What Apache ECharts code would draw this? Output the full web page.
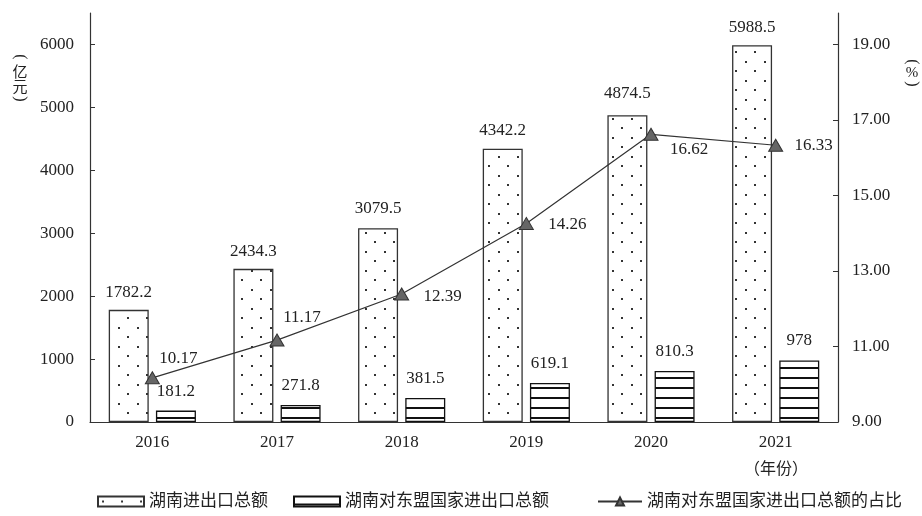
<!DOCTYPE html>
<html>
<head>
<meta charset="utf-8">
<script src="https://cdn.jsdelivr.net/npm/echarts@6/dist/echarts.min.js"></script>
<style>
html,body{margin:0;padding:0;background:#fff;}
#main{width:922px;height:516px;}
</style>
</head>
<body>
<div id="main"></div>
<script>
// ---- data ----
const years = ['2016', '2017', '2018', '2019', '2020', '2021'];
const totalTrade = [1782.2, 2434.3, 3079.5, 4342.2, 4874.5, 5988.5];
const aseanTrade = [181.2, 271.8, 381.5, 619.1, 810.3, 978];
const aseanShare = [10.17, 11.17, 12.39, 14.26, 16.62, 16.33];
const leftTicks = [0, 1000, 2000, 3000, 4000, 5000, 6000];
const rightTicks = [9, 11, 13, 15, 17, 19];
const seriesNames = ['湖南进出口总额', '湖南对东盟国家进出口总额', '湖南对东盟国家进出口总额的占比'];

// label placement tweaks (style only)
const shareLabelOffsets = [[26, -19], [25, -23], [41, 3], [41, 1], [38, 15], [38, 0]];
const totalLabelOffsets = [[0, 0], [0, 0], [0, -2], [0, -1], [0, -4], [0, 0]];

const FONT = '"Liberation Serif", "Times New Roman", "Noto Sans CJK SC", serif';
const TXT = '#222';

function dotPattern() {
  const c = document.createElement('canvas');
  c.width = 19; c.height = 19;
  const g = c.getContext('2d');
  g.fillStyle = '#fff'; g.fillRect(0, 0, 19, 19);
  g.fillStyle = '#333';
  g.fillRect(4, 4, 2, 2);
  g.fillRect(13, 13, 2, 2);
  return { image: c, repeat: 'repeat' };
}
function stripePattern() {
  const c = document.createElement('canvas');
  c.width = 10; c.height = 10;
  const g = c.getContext('2d');
  g.fillStyle = '#fff'; g.fillRect(0, 0, 10, 10);
  g.fillStyle = '#111';
  g.fillRect(0, 7, 10, 2);
  return { image: c, repeat: 'repeat' };
}

const chart = echarts.init(document.getElementById('main'), null, { renderer: 'canvas' });

const leftMax = 6500;
const rightMin = 9;
const rightMax = rightMin + (leftMax / 6000) * 10;

const parenFont = '16px "Liberation Serif"';
function ptext(ch, x, y, rotated, font) {
  const el = { type: 'text', x: x, y: y,
    style: { text: ch, font: font, fill: TXT, align: 'center', verticalAlign: 'middle' } };
  if (rotated) el.rotation = -Math.PI / 2;
  return el;
}
const legendText = { fontFamily: FONT, fontSize: 17, color: TXT };

const option = {
  animation: false,
  backgroundColor: '#fff',
  textStyle: { fontFamily: FONT, color: TXT },
  grid: { left: 90, right: 84, top: 13, bottom: 94, containLabel: false },
  legend: [
    {
      left: 92, top: 488,
      itemWidth: 46, itemHeight: 10, itemGap: 25,
      textStyle: legendText,
      data: [
        { name: seriesNames[0], icon: 'rect' },
        { name: seriesNames[1], icon: 'rect' }
      ]
    },
    {
      left: 592, top: 488,
      itemWidth: 44, itemHeight: 10,
      textStyle: legendText,
      data: [{ name: seriesNames[2] }]
    }
  ],
  xAxis: {
    type: 'category',
    data: years,
    axisLine: { lineStyle: { color: '#333', width: 1.2 } },
    axisTick: { inside: true, length: 5, lineStyle: { color: '#333' } },
    axisLabel: { margin: 12, fontSize: 17, color: TXT, fontFamily: FONT },
    splitLine: { show: false }
  },
  yAxis: [
    {
      type: 'value', min: 0, max: leftMax, interval: 1000,
      axisLine: { show: true, lineStyle: { color: '#333', width: 1.2 } },
      axisTick: { show: true, inside: true, length: 5, lineStyle: { color: '#333' }, customValues: leftTicks },
      axisLabel: {
        margin: 16, fontSize: 17, color: TXT, fontFamily: FONT, customValues: leftTicks,
        formatter: v => String(v)
      },
      splitLine: { show: false }
    },
    {
      type: 'value', min: rightMin, max: rightMax, interval: 2,
      axisLine: { show: true, lineStyle: { color: '#333', width: 1.2 } },
      axisTick: { show: true, inside: true, length: 5, lineStyle: { color: '#333' }, customValues: rightTicks },
      axisLabel: {
        margin: 14, fontSize: 17, color: TXT, fontFamily: FONT, customValues: rightTicks,
        formatter: v => Number(v).toFixed(2)
      },
      splitLine: { show: false }
    }
  ],
  series: [
    {
      name: seriesNames[0],
      type: 'bar',
      data: totalTrade.map((v, i) => ({ value: v, label: { offset: totalLabelOffsets[i] } })),
      barWidth: 40,
      barGap: '18%',
      itemStyle: { color: dotPattern(), borderColor: '#333', borderWidth: 1.3 },
      label: { show: true, position: 'top', distance: 9, fontSize: 17, color: TXT, fontFamily: FONT }
    },
    {
      name: seriesNames[1],
      type: 'bar',
      data: aseanTrade,
      barWidth: 40,
      itemStyle: { color: stripePattern(), borderColor: '#111', borderWidth: 1.3 },
      label: { show: true, position: 'top', distance: 11, fontSize: 17, color: TXT, fontFamily: FONT }
    },
    {
      name: seriesNames[2],
      type: 'line',
      yAxisIndex: 1,
      z: 5,
      data: aseanShare.map((v, i) => ({
        value: v,
        label: { offset: shareLabelOffsets[i] }
      })),
      symbol: 'triangle',
      symbolSize: [14, 12],
      lineStyle: { color: '#333', width: 1.2 },
      itemStyle: { color: '#666', borderColor: '#333', borderWidth: 1 },
      label: {
        show: true, position: 'inside', fontSize: 17, color: TXT, fontFamily: FONT,
        formatter: p => Number(p.value).toFixed(2)
      }
    }
  ],
  graphic: [
    ptext('(', 20, 57, true, parenFont),
    ptext('亿', 20, 71, false, '15px "Noto Sans CJK SC"'),
    ptext('元', 20, 86, false, '15px "Noto Sans CJK SC"'),
    ptext(')', 20, 99, true, parenFont),
    ptext('(', 912, 62, true, parenFont),
    ptext('%', 912, 73, false, '15px "Liberation Serif"'),
    ptext(')', 912, 84, true, parenFont),
    { type: 'text', left: 744, top: 460,
      style: { text: '（年份）', font: '16px "Noto Sans CJK SC"', fill: TXT } }
  ]
};

chart.setOption(option);
</script>
</body>
</html>
